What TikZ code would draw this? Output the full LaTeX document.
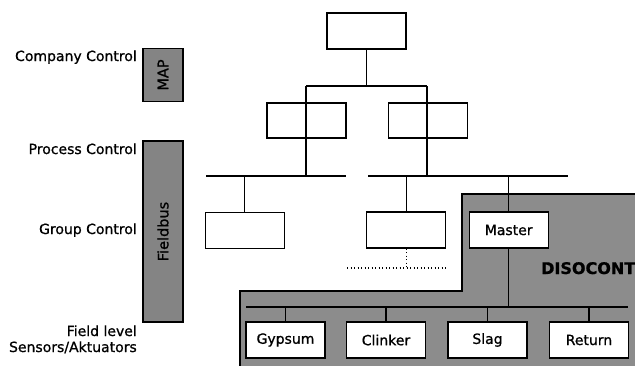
\documentclass[tikz,border=0pt]{standalone}
\usepackage{fontspec}
\setmainfont{DejaVu Sans}[FakeBold=0.9]
\definecolor{bargrey}{RGB}{132,132,132}
\definecolor{zonegrey}{RGB}{140,140,140}
\begin{document}
\begin{tikzpicture}[x=1pt,y=-1pt,
  txt/.style={font=\fontsize{14}{17}\selectfont},
  box/.style={draw, line width=1.3pt, fill=white, minimum width=79pt, minimum height=36pt, inner sep=0pt, txt},
  bar/.style={draw, line width=1.3pt, fill=bargrey, inner sep=0pt, font=\fontsize{14.5}{17}\selectfont, rotate=90},
  lbl/.style={anchor=base east, inner sep=0pt, txt},
  wire/.style={line width=1.3pt},
  dots/.style={line width=1.1pt, dash pattern=on 1.1pt off 2.4pt}]
\useasboundingbox (0,0) rectangle (635,365);
\clip (0,0) rectangle (635,365);
% grey DISOCONT zone
\draw[line width=1.5pt, fill=zonegrey] (462,194) -- (645,194) -- (645,375) -- (240,375) -- (240,291) -- (462,291) -- cycle;
\node[anchor=base west, inner sep=0pt, font=\fontsize{16}{19}\selectfont\bfseries] (dis) at (541,274) {DISOCONT};
% left labels and bars
\node[lbl] (lc) at (137,61) {Company Control};
\node[lbl] (lp) at (137,154) {Process Control};
\node[lbl] (lg) at (137,234) {Group Control};
\node[lbl] (lf) at (137,336) {Field level};
\node[lbl] (ls) at (137,352) {Sensors/Aktuators};
\node[bar, minimum width=53pt, minimum height=40pt] (map) at (163,75) {MAP};
\node[bar, minimum width=181pt, minimum height=40pt] (fb) at (163,231.5) {Fieldbus};
% hierarchy
\node[box] (top) at (366.5,31) {};
\coordinate (b0l) at (306,86);
\coordinate (b0r) at (427,86);
\node[box, minimum height=35pt] (m1) at (306.5,120.5) {};
\node[box, minimum height=35pt] (m2) at (428,120.5) {};
\coordinate (b1a) at (206,176);
\coordinate (b1b) at (346,176);
\coordinate (b2a) at (368,176);
\coordinate (b2b) at (568,176);
\coordinate (b1v) at (306,176);
\coordinate (b2v) at (427,176);
\draw[wire] (top.south) -- (top.south |- b0l);
\draw[wire] (b0l) -- (b0r);
\draw[wire] (b0l) -- (b1v);
\draw[wire] (b0r) -- (b2v);
\draw[wire] (b1a) -- (b1b);
\draw[wire] (b2a) -- (b2b);
% group level
\node[box] (g1) at (244.7,230.3) {};
\node[box] (g2) at (406.3,230) {};
\node[box] (master) at (508.7,230) {Master};
\draw[wire] (g1.north) -- (g1.north |- b1a);
\draw[wire] (g2.north) -- (g2.north |- b2a);
\draw[wire] (master.north) -- (master.north |- b2a);
\coordinate (d1) at (347,268);
\coordinate (d2) at (447,268);
\draw[dots] (g2.south) -- (g2.south |- d1);
\draw[dots] (d1) -- (d2);
% field level
\coordinate (b3a) at (246,307);
\coordinate (b3b) at (628,307);
\draw[wire] (master.south) -- (master.south |- b3a);
\draw[wire] (b3a) -- (b3b);
\node[box] (gyp) at (285.5,340) {Gypsum};
\node[box] (cli) at (386,340) {Clinker};
\node[box] (sla) at (487.5,340) {Slag};
\node[box] (ret) at (589,340) {Return};
\foreach \n in {gyp,cli,sla,ret}
  \draw[wire] (\n.north) -- (\n.north |- b3a);
\end{tikzpicture}
\end{document}
